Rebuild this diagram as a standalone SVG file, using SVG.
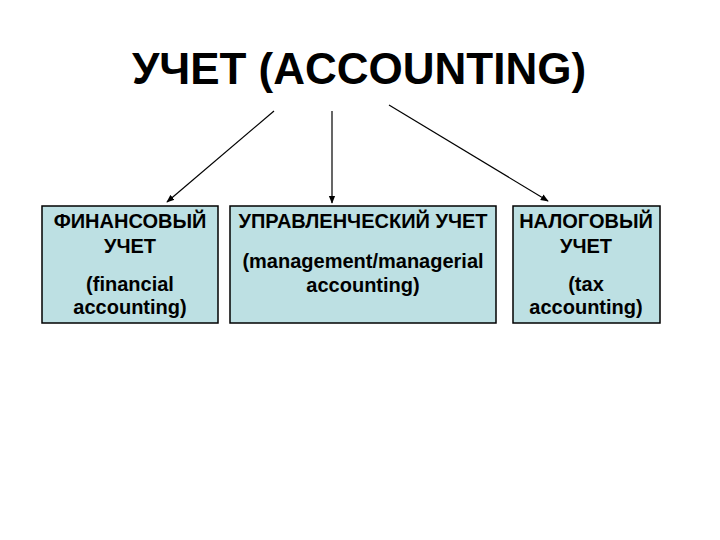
<svg xmlns="http://www.w3.org/2000/svg" width="720" height="540" viewBox="0 0 720 540">
<style>
.box{fill:#bde0e3;stroke:#000;stroke-width:1.5}
.t{font-family:"Liberation Sans",Arial,sans-serif;font-weight:bold;font-size:20px;text-anchor:middle;fill:#000}
.title{font-family:"Liberation Sans",Arial,sans-serif;font-weight:bold;font-size:44px;text-anchor:middle;fill:#000}
.c{stroke:#000;stroke-width:1.2;fill:none}
</style>
<defs>
<marker id="ah" viewBox="0 0 10 10" refX="9" refY="5" markerWidth="8" markerHeight="8" markerUnits="userSpaceOnUse" orient="auto">
<path d="M0,1 L10,5 L0,9 Z" fill="#000"/>
</marker>
</defs>
<rect width="720" height="540" fill="#fff"/>
<g id="title"><text class="title" x="359" y="84">УЧЕТ (ACCOUNTING)</text></g>
<g id="connectors">
<line class="c" x1="274" y1="111" x2="167" y2="202" marker-end="url(#ah)"/>
<line class="c" x1="332" y1="111" x2="332" y2="203" marker-end="url(#ah)"/>
<line class="c" x1="389" y1="105" x2="548" y2="201" marker-end="url(#ah)"/>
</g>
<g id="fin">
<rect class="box" x="42" y="206" width="176" height="117"/>
<text class="t" x="130" y="228">ФИНАНСОВЫЙ</text>
<text class="t" x="130" y="253">УЧЕТ</text>
<text class="t" x="130" y="291">(financial</text>
<text class="t" x="130" y="314">accounting)</text>
</g>
<g id="mgmt">
<rect class="box" x="230" y="206" width="266" height="117"/>
<text class="t" x="363" y="228">УПРАВЛЕНЧЕСКИЙ УЧЕТ</text>
<text class="t" x="363" y="268">(management/managerial</text>
<text class="t" x="363" y="292">accounting)</text>
</g>
<g id="tax">
<rect class="box" x="513" y="206" width="147" height="117"/>
<text class="t" x="586" y="228">НАЛОГОВЫЙ</text>
<text class="t" x="586" y="253">УЧЕТ</text>
<text class="t" x="586" y="291">(tax</text>
<text class="t" x="586" y="314">accounting)</text>
</g>
</svg>
